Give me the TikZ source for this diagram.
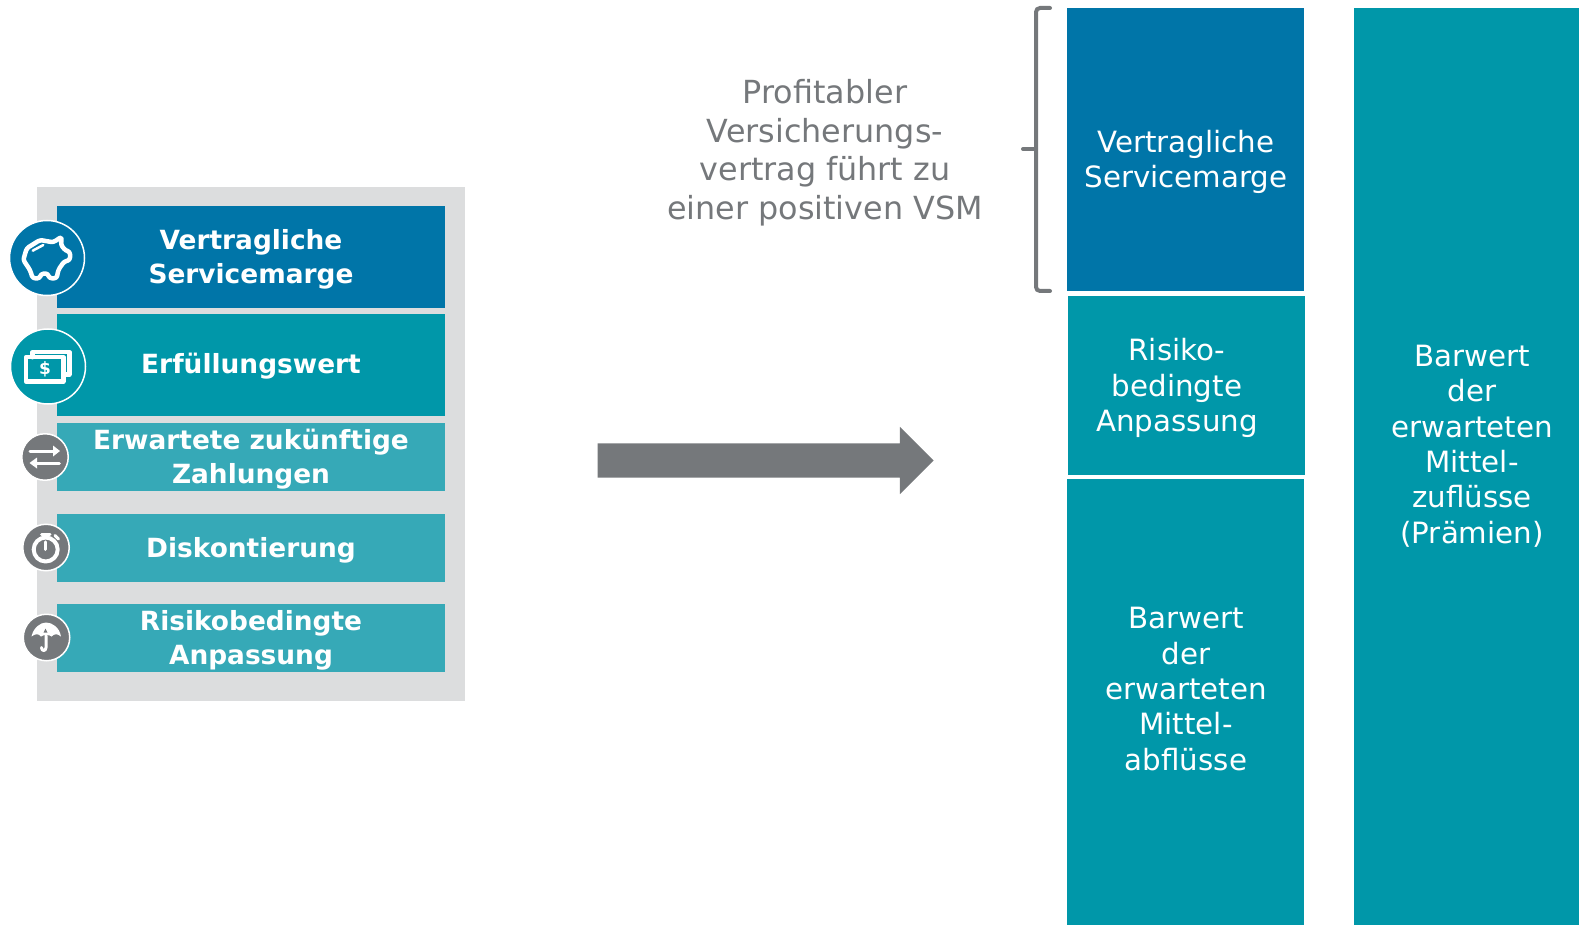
\documentclass[tikz,border=0pt]{standalone}
\usepackage{fontspec}
\setmainfont{DejaVu Sans}
\usetikzlibrary{positioning,shapes.arrows}

\definecolor{vsmblue}{HTML}{0075A8}
\definecolor{fwteal}{HTML}{0097A9}
\definecolor{lightteal}{HTML}{36A9B7}
\definecolor{darkgrey}{HTML}{75787B}
\definecolor{panelgrey}{HTML}{DCDDDE}

\begin{document}
\begin{tikzpicture}
[
  x=1pt,
  y=-1pt,
  lbox/.style={rectangle,inner sep=0pt,outer sep=0pt,minimum width=388pt},
  bigbox/.style={lbox,minimum height=102pt},
  smallbox/.style={lbox,minimum height=68pt,fill=lightteal},
  ltext/.style={align=center,text=white,font=\fontsize{26.4}{34}\selectfont\bfseries},
  rbox/.style={rectangle,inner sep=0pt,outer sep=0pt,minimum width=237pt},
  rtext/.style={align=center,text=white,font=\fontsize{29.3}{35.3}\selectfont},
  bigicon/.style={circle,draw=white,line width=1.5pt,inner sep=0pt,minimum size=75pt},
  smallicon/.style={circle,draw=white,line width=1.5pt,inner sep=0pt,minimum size=46.5pt,fill=darkgrey},
  glyph/.style={draw=white,line width=4.5pt,line cap=round,line join=round}
]
 \useasboundingbox (0,0) rectangle (1579,925);

 % left panel
 \node[rectangle,fill=panelgrey,inner sep=0pt,minimum width=428pt,minimum height=514pt] (panel) at (251,444) {};
 \node[bigbox,fill=vsmblue] (vsm) at (251,257) {};
 \node[bigbox,fill=fwteal] (fw) [below=6pt of vsm] {};
 \node[smallbox] (zahl) [below=7pt of fw] {};
 \node[smallbox] (disk) [below=23pt of zahl] {};
 \node[smallbox] (risk) [below=22pt of disk] {};

 \node[ltext] (lvsm) at ([yshift=-2pt]vsm.center) {Vertragliche\\Servicemarge};
 \node[ltext] (lfw) at ([yshift=-1pt]fw.center) {Erfüllungswert};
 \node[ltext] (lzahl) at ([yshift=-2pt]zahl.center) {Erwartete zukünftige\\Zahlungen};
 \node[ltext] (ldisk) at ([yshift=-2pt]disk.center) {Diskontierung};
 \node[ltext] (lrisk) at ([yshift=-2pt]risk.center) {Risikobedingte\\Anpassung};

 % icons
 \node[bigicon,fill=vsmblue] (ivsm) at (47,258) {};
 \node[bigicon,fill=fwteal] (ifw) at (48,366.5) {};
 \node[smallicon] (izahl) at (45,457) {};
 \node[smallicon] (idisk) at (46,547.5) {};
 \node[smallicon] (irisk) at (46.5,637.5) {};

 \begin{scope}[shift={(ivsm.center)}]
  \draw[glyph,rounded corners=2.5pt] (14.7,-21.3) -- (14,-13) -- (18.7,-7.3) -- (23,-6.3) -- (23,2) -- (17,3.7) -- (11.3,12) -- (9.7,20.3) -- (2.3,20.3) -- (0.7,15.3) -- (-6.3,16) -- (-7,20.3) -- (-14.3,20.3) -- (-17,12) -- (-23.7,2) -- (-20.3,-9.7) -- (-7,-18) -- (6.3,-15.7) -- cycle;
  \draw[glyph,line width=2.5pt] (-14.3,-7.3) -- (-3.7,-13);
 \end{scope}
 \begin{scope}[shift={(ifw.center)}]
  \draw[glyph] (-22,-9.3) rectangle (15.3,15);
  \draw[glyph] (-15.7,-9.3) -- (-15.7,-14.3) -- (21.3,-14.3) -- (21.3,8) -- (15.3,8);
  \node[text=white,font=\fontsize{17}{17}\selectfont\bfseries] (dollar) at (-3,3) {\$};
 \end{scope}
 \begin{scope}[shift={(izahl.center)}]
  \draw[glyph,line width=3pt] (-15,-6) -- (10,-6);
  \fill[white] (15,-6) -- (8,-11.5) -- (8,-0.5) -- cycle;
  \draw[glyph,line width=3pt] (14.3,6) -- (-10,6);
  \fill[white] (-15.5,6) -- (-8,0.5) -- (-8,11.5) -- cycle;
 \end{scope}
 \begin{scope}[shift={(idisk.center)}]
  \draw[glyph,line width=4pt] (-0.3,2) circle (12);
  \draw[glyph,line width=3pt] (-1,-5.7) -- (-1,2);
  \draw[glyph,line width=3pt] (-4.3,-13.5) -- (4,-13.5);
  \draw[glyph,line width=3pt] (9,-12) -- (12.5,-8.5);
 \end{scope}
 \begin{scope}[shift={(irisk.center)}]
  \fill[white] (-15,-1) .. controls (-13,-10) and (-6,-15) .. (-0.5,-15) .. controls (6,-15) and (13,-10) .. (14.5,-1) .. controls (11,-4) and (8,-4) .. (5,-1) .. controls (3,-3) and (-3,-3) .. (-5.5,-1) .. controls (-8,-4) and (-11,-4) .. cycle;
  \fill[darkgrey] (-1,-9) -- (1,-5) -- (-3,-5) -- cycle;
  \draw[glyph,line width=3pt] (-0.5,-2) -- (-0.5,10) .. controls (-0.5,14) and (-5,14) .. (-5,10);
 \end{scope}

 % big arrow
 \node[single arrow,fill=darkgrey,inner xsep=0pt,inner ysep=17pt,minimum height=336pt,single arrow head extend=16.5pt,single arrow tip angle=90] (pfeil) at (757,460.5) {};

 % right columns
 \node[rbox,fill=vsmblue,minimum height=283pt] (rvsm) at (1185.5,149.5) {};
 \node[rbox,fill=fwteal,minimum height=179pt] (rra) at (1186.5,385.5) {};
 \node[rbox,fill=fwteal,minimum height=446pt] (rab) at (1185.5,702) {};
 \node[rectangle,fill=fwteal,inner sep=0pt,outer sep=0pt,minimum width=225pt,minimum height=917pt] (rzu) at (1466.5,466.5) {};

 \node[rtext] (tvsm) at (1186,162) {Vertragliche\\Servicemarge};
 \node[rtext] (tra) at (1177,388) {Risiko-\\bedingte\\Anpassung};
 \node[rtext] (tab) at (1186,689) {Barwert\\der\\erwarteten\\Mittel-\\abflüsse};
 \node[rtext] (tzu) at (1472,446) {Barwert\\der\\erwarteten\\Mittel-\\zuflüsse\\(Prämien)};

 % brace
 \node[align=center,text=darkgrey,font=\fontsize{31.8}{38.5}\selectfont] (profit) at (825,152.5) {Profitabler\\Versicherungs-\\vertrag führt zu\\einer positiven VSM};
 \coordinate (bmid) at (1036,149);
 \draw[darkgrey,line width=4pt,line cap=round,rounded corners=4pt] (1050,8) -- (1036,8) -- (bmid) -- (1036,291) -- (1050,291);
 \draw[darkgrey,line width=4pt,line cap=round] (1023,149) -- (bmid);
\end{tikzpicture}
\end{document}
